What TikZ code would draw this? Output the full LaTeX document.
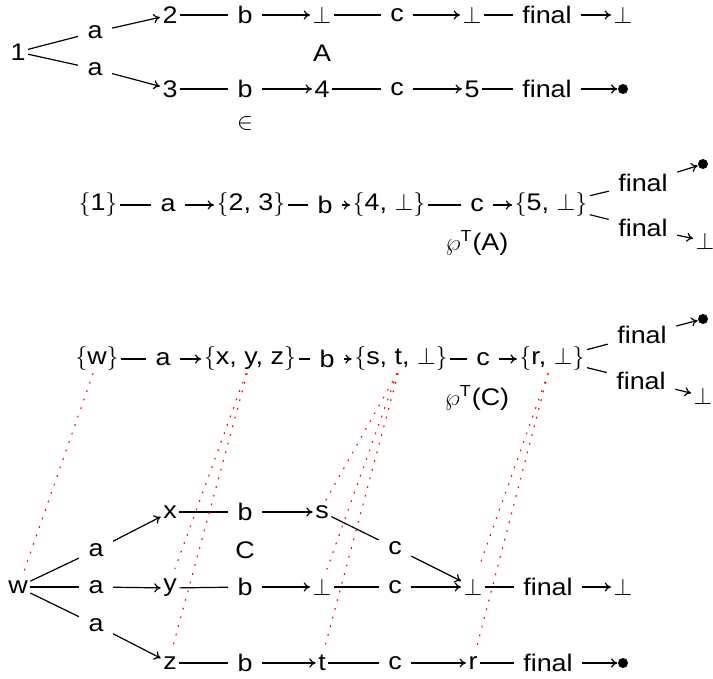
\documentclass[tikz,border=0pt]{standalone}
\usepackage{amsmath}
\usepackage{fontspec}
\setmainfont{Liberation Sans}[FakeStretch=1.12]
\usetikzlibrary{arrows.meta}
\newcommand\chainedge[3]{\draw (#1) -- (#2); \draw[->] (#2) -- (#3);}
\begin{document}
\begin{tikzpicture}[x=0.5pt,y=-0.5pt,
  font=\fontsize{12}{14}\selectfont, line width=0.6pt,
  >={To[length=3.2pt,width=4.6pt]},
  st/.style={inner sep=1pt},
  lab/.style={inner xsep=4.5pt, inner ysep=1pt},
  ball/.style={circle, fill, inner sep=0pt, minimum size=5pt},
  rdot/.style={red, line width=0.6pt, dash pattern=on 0.5pt off 4pt, line cap=round}]
\useasboundingbox (0,0) rectangle (713,679);
% ---------------- automaton A
\node[st] (n1) at (18,52) {1};
\node[lab] (a1u) at (95,32) {a};
\node[lab] (a1d) at (95,69) {a};
\node[st] (n2) at (170,15) {2};
\node[lab] (b1u) at (245,15) {b};
\node[st] (u1) at (322,15) {$\bot$};
\node[lab] (c1u) at (397,15) {c};
\node[st] (u2) at (472,15) {$\bot$};
\node[lab] (f1u) at (547,15) {final};
\node[st] (u3) at (623,15) {$\bot$};
\node (A) at (322,53) {A};
\node[st] (n3) at (170,89) {3};
\node[lab] (b1d) at (245,89) {b};
\node[st] (n4) at (322,89) {4};
\node[lab] (c1d) at (397,89) {c};
\node[st] (n5) at (472,89) {5};
\node[lab] (f1d) at (547,89) {final};
\node[ball] (d1) at (623,89) {};
\node (in) at (245,124) {$\in$};
\chainedge{n1}{a1u}{n2}
\chainedge{n1}{a1d}{n3}
\chainedge{n2}{b1u}{u1}
\chainedge{u1}{c1u}{u2}
\chainedge{u2}{f1u}{u3}
\chainedge{n3}{b1d}{n4}
\chainedge{n4}{c1d}{n5}
\chainedge{n5}{f1d}{d1}
% ---------------- powerset of A
\node[st] (S1) at (98,205) {$\{$1$\}$};
\node[lab] (la2) at (168,205) {a};
\node[st] (S23) at (251,205) {$\{$2, 3$\}$};
\node[lab] (lb2) at (325,205) {b};
\node[st] (S4) at (389,205) {$\{$4, $\bot\}$};
\node[lab] (lc2) at (477,205) {c};
\node[st] (S5) at (551,205) {$\{$5, $\bot\}$};
\node[lab] (lf2u) at (643,183) {final};
\node[ball] (d2) at (703,164) {};
\node[lab] (lf2d) at (643,228) {final};
\node[st] (u4) at (705,241) {$\bot$};
\node (PA) at (477,243) {$\wp^{\text{T}}$(A)};
\chainedge{S1}{la2}{S23}
\chainedge{S23}{lb2}{S4}
\chainedge{S4}{lc2}{S5}
\chainedge{S5}{lf2u}{d2}
\chainedge{S5}{lf2d}{u4}
% ---------------- powerset of C
\node[st] (Pw) at (97,359) {$\{$w$\}$};
\node[lab] (la3) at (163,359) {a};
\node[st] (Pxyz) at (250,359) {$\{$x, y, z$\}$};
\node[lab] (lb3) at (327,359) {b};
\node[st] (Pst) at (401,359) {$\{$s, t, $\bot\}$};
\node[lab] (lc3) at (483,359) {c};
\node[st] (Pr) at (552,359) {$\{$r, $\bot\}$};
\node[lab] (lf3u) at (642,335) {final};
\node[ball] (d3) at (703,319) {};
\node[lab] (lf3d) at (641,381) {final};
\node[st] (u5) at (703,396) {$\bot$};
\node (PC) at (477,398) {$\wp^{\text{T}}$(C)};
\chainedge{Pw}{la3}{Pxyz}
\chainedge{Pxyz}{lb3}{Pst}
\chainedge{Pst}{lc3}{Pr}
\chainedge{Pr}{lf3u}{d3}
\chainedge{Pr}{lf3d}{u5}
% ---------------- automaton C
\node[st] (w) at (18,587) {w};
\node[lab] (a4u) at (96,550) {a};
\node[lab] (a4m) at (96,587) {a};
\node[lab] (a4d) at (96,625) {a};
\node[st] (x) at (170,512) {x};
\node[st] (y) at (170,588) {y};
\node[st] (z) at (170,663) {z};
\node[lab] (b4u) at (245,512) {b};
\node[lab] (b4m) at (245,587) {b};
\node[lab] (b4d) at (245,663) {b};
\node (C) at (245,550) {C};
\node[st] (s) at (322,512) {s};
\node[st] (u6) at (322,587) {$\bot$};
\node[st] (t) at (322,663) {t};
\node[lab] (c4u) at (395,548) {c};
\node[lab] (c4m) at (395,587) {c};
\node[lab] (c4d) at (395,663) {c};
\node[st] (u7) at (473,587) {$\bot$};
\node[st] (r) at (473,663) {r};
\node[lab] (f4u) at (548,587) {final};
\node[lab] (f4d) at (548,663) {final};
\node[st] (u8) at (623,587) {$\bot$};
\node[ball] (d4) at (623,663) {};
\chainedge{w}{a4u}{x}
\chainedge{w}{a4m}{y}
\chainedge{w}{a4d}{z}
\chainedge{x}{b4u}{s}
\chainedge{y}{b4m}{u6}
\chainedge{z}{b4d}{t}
\chainedge{s}{c4u}{u7}
\chainedge{u6}{c4m}{u7}
\chainedge{t}{c4d}{r}
\chainedge{u7}{f4u}{u8}
\chainedge{r}{f4d}{d4}
% ---------------- red dotted correspondences
\draw[rdot] ([xshift=-2pt]Pw.south) -- ([shift={(3pt,3.5pt)}]w.north);
\draw[rdot] ([xshift=-2pt]Pxyz.south) -- ([shift={(2.5pt,4pt)}]y.north);
\draw[rdot] ([xshift=-1.5pt]Pxyz.south) -- ([shift={(1.5pt,4pt)}]z.north);
\draw[rdot] ([xshift=-2pt]Pst.south) -- ([shift={(1.5pt,0.5pt)}]s.north);
\draw[rdot] ([xshift=-2pt]Pst.south) -- ([shift={(2.5pt,3.5pt)}]u6.north);
\draw[rdot] ([xshift=-1.5pt]Pst.south) -- ([shift={(1.5pt,3pt)}]t.north);
\draw[rdot] ([xshift=-2pt]Pr.south) -- ([shift={(3pt,4.5pt)}]u7.north);
\draw[rdot] ([xshift=-2pt]Pr.south) -- ([shift={(2pt,4pt)}]r.north);
\end{tikzpicture}
\end{document}
